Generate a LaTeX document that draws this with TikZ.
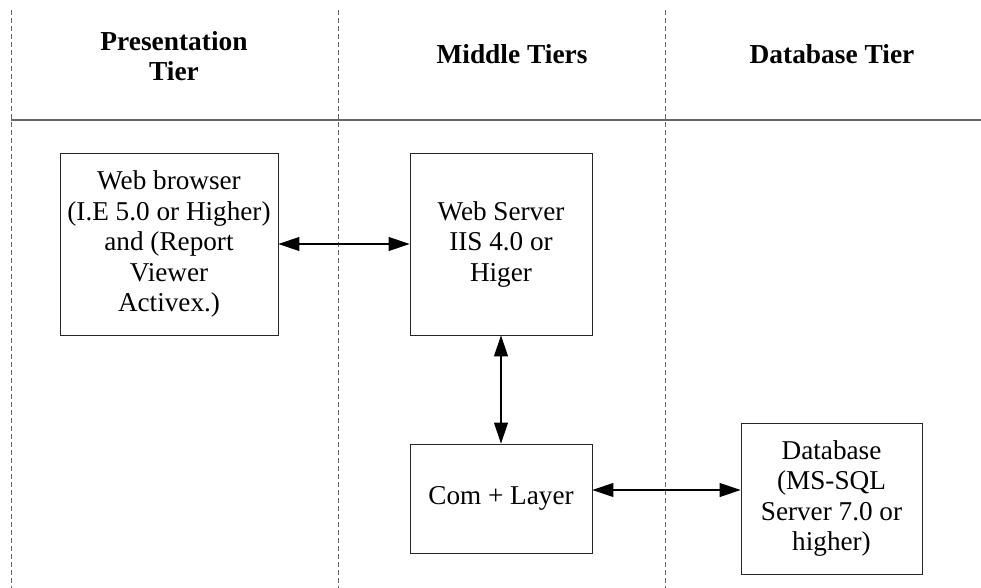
\documentclass[tikz,border=0pt]{standalone}
\usepackage{fontspec}
\setmainfont{Liberation Serif}
\usetikzlibrary{arrows.meta}
\begin{document}
\begin{tikzpicture}[x=1pt,y=-1pt,
  txt/.style={font=\fontsize{27.2}{30.5}\selectfont, align=center},
  ttl/.style={font=\fontsize{27.4}{30}\selectfont\bfseries, align=center},
  box/.style={draw=black!85, line width=0.9pt, txt, inner sep=0pt},
  lane/.style={draw=black!60, dashed, dash pattern=on 5pt off 3pt, line width=0.9pt},
  sep/.style={draw=black!60, line width=1.2pt},
  link/.style={draw=black, line width=1.1pt, {Triangle[length=21pt,width=14pt]}-{Triangle[length=21pt,width=14pt]}}
]
\useasboundingbox (0,0) rectangle (981,588);
\coordinate (l1t) at (11,10);  \coordinate (l1b) at (11,588);
\coordinate (l2t) at (338,10); \coordinate (l2b) at (338,588);
\coordinate (l3t) at (665,10); \coordinate (l3b) at (665,588);
\coordinate (hl) at (11,120);  \coordinate (hr) at (981,120);
\draw[lane] (l1t) -- (l1b);
\draw[lane] (l2t) -- (l2b);
\draw[lane] (l3t) -- (l3b);
\draw[sep] (hl) -- (hr);

\node[ttl] (t1) at (174,56) {Presentation\\Tier};
\node[ttl] (t2) at (512,54) {Middle Tiers};
\node[ttl] (t3) at (832,54) {Database Tier};

\node[box, minimum width=218pt, minimum height=182pt] (web) at (169,244)
  {Web browser\\(I.E 5.0 or Higher)\\and (Report\\Viewer\\Activex.)};
\node[box, minimum width=182pt, minimum height=182pt] (srv) at (501,244)
  {Web Server\\IIS 4.0 or\\Higer};
\node[box, minimum width=182pt, minimum height=109pt] (com) at (501,498.5)
  {Com + Layer};
\node[box, minimum width=181pt, minimum height=151pt] (db) at (831.5,498.5)
  {Database\\(MS-SQL\\Server 7.0 or\\higher)};

\draw[link] (web.east) -- (srv.west);
\draw[link] (srv.south) -- (com.north);
\draw[link] ([yshift=8.5pt]com.east) -- ([yshift=8.5pt]db.west);
\end{tikzpicture}
\end{document}
